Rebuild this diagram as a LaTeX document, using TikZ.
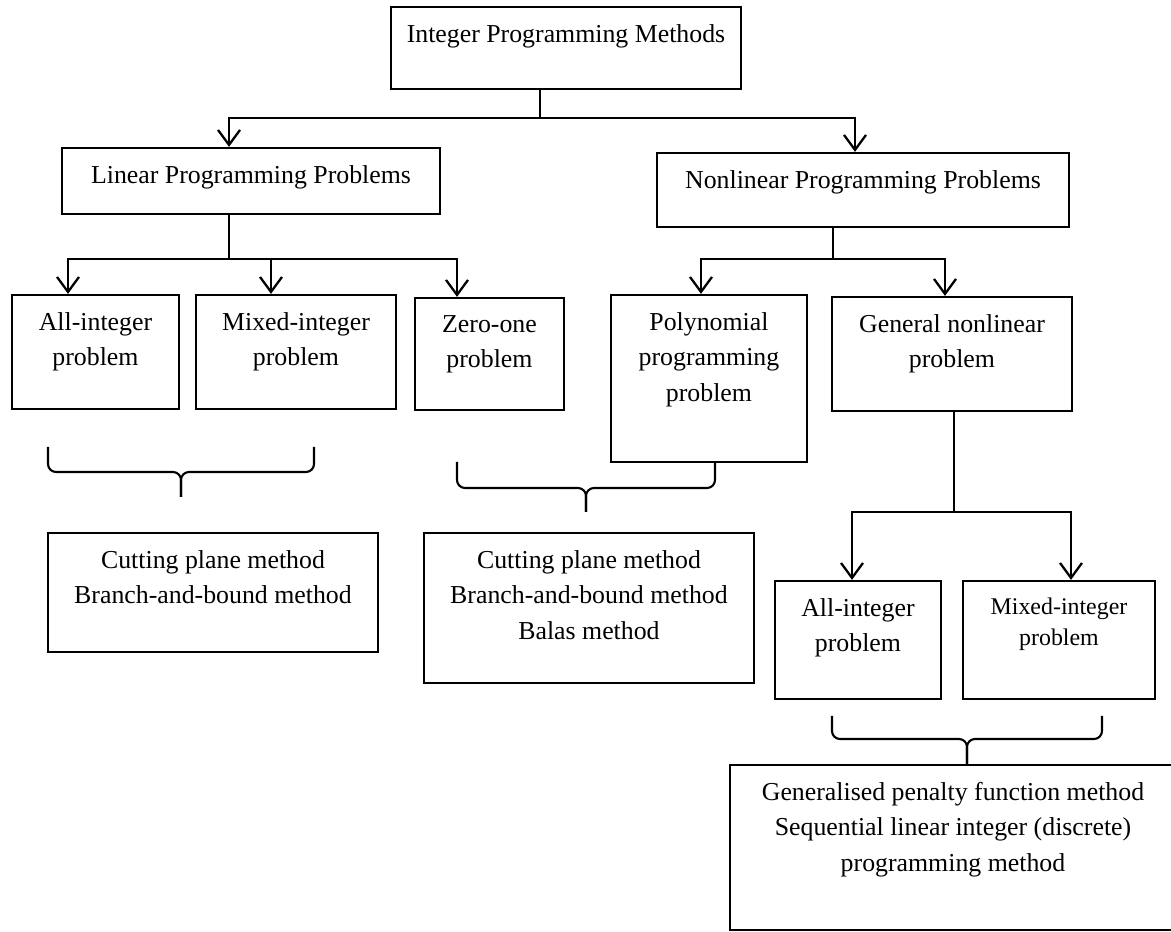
\documentclass[tikz,border=0pt]{standalone}
\usepackage{fontspec}
\setmainfont{Liberation Serif}
\usetikzlibrary{arrows.meta,calc}
\tikzset{
  box/.style={draw,line width=1.3pt,inner sep=0pt},
  txt/.style={anchor=north,align=center,inner sep=0pt,yshift=-0.36cm,font=\fontsize{14.7}{20.2}\selectfont},
  conn/.style={line width=1.3pt},
  brc/.style={line width=1.2pt,rounded corners=0.16cm},
}

\begin{document}
\begin{tikzpicture}[x=0.02cm,y=-0.02cm,>={Straight Barb[length=3mm,width=4.4mm]}]
      \useasboundingbox (0,0) rectangle (1171,932);
      % top level
      \node[box,minimum width=7cm,minimum height=1.64cm,label={[txt]north:Integer Programming Methods}] (ipm) at (566,48) {};
      \node[box,minimum width=7.56cm,minimum height=1.32cm,label={[txt]north:Linear Programming Problems}] (lpp) at (251,181) {};
      \node[box,minimum width=8.24cm,minimum height=1.48cm,label={[txt]north:Nonlinear Programming Problems}] (nlpp) at (863,190) {};
      % problem classes
      \node[box,minimum width=3.34cm,minimum height=2.28cm,label={[txt]north:{All-integer\\problem}}] (allint) at (95.5,352) {};
      \node[box,minimum width=4cm,minimum height=2.28cm,label={[txt]north:{Mixed-integer\\problem}}] (mixint) at (296,352) {};
      \node[box,minimum width=2.98cm,minimum height=2.24cm,label={[txt]north:{Zero-one\\problem}}] (zeroone) at (489.5,354) {};
      \node[box,minimum width=3.92cm,minimum height=3.34cm,label={[txt]north:{Polynomial\\programming\\problem}}] (poly) at (709,378.5) {};
      \node[box,minimum width=4.8cm,minimum height=2.28cm,label={[txt]north:{General nonlinear\\problem}}] (general) at (952,354) {};
      \node[box,minimum width=3.32cm,minimum height=2.36cm,label={[txt]north:{All-integer\\problem}}] (allint2) at (858,640) {};
      \node[box,minimum width=3.84cm,minimum height=2.36cm,label={[txt,font=\fontsize{13.6}{17.6}\selectfont]north:{Mixed-integer\\problem}}] (mixint2) at (1059,640) {};
      % methods
      \node[box,minimum width=6.6cm,minimum height=2.38cm,label={[txt]north:{Cutting plane method\\Branch-and-bound method}}] (meth1) at (213,592.5) {};
      \node[box,minimum width=6.6cm,minimum height=3cm,label={[txt]north:{Cutting plane method\\Branch-and-bound method\\Balas method}}] (meth2) at (589,608) {};
      \node[box,minimum width=8.92cm,minimum height=3.3cm,label={[txt]north:{Generalised penalty function method\\Sequential linear integer (discrete)\\programming method}}] (meth3) at (953,847.5) {};
      % connectors
      \foreach \n/\s in {lpp/-0.44cm,nlpp/-0.16cm}
        \draw[conn,->] ([xshift=-0.52cm]ipm.south) -- ++(0,28) -| ([xshift=\s]\n.north);
      \foreach \n/\s in {allint/-0.55cm,mixint/-0.5cm,zeroone/-0.65cm}
        \draw[conn,->] ([xshift=-0.44cm]lpp.south) -- ++(0,44) -| ([xshift=\s]\n.north);
      \foreach \n/\s in {poly/-0.16cm,general/-0.14cm}
        \draw[conn,->] ([xshift=-0.6cm]nlpp.south) -- ++(0,31) -| ([xshift=\s]\n.north);
      \foreach \n/\s in {allint2/-0.12cm,mixint2/0.24cm}
        \draw[conn,->] ([xshift=0.04cm]general.south) -- ++(0,100) -| ([xshift=\s]\n.north);
      % braces
      \foreach \xa/\xb/\ya/\yb/\yc in {48/314/447/472/497,457/715/462/488/512,832/1102/716/739/765}{
        \pgfmathsetmacro\xm{(\xa+\xb)/2}
        \draw[brc] (\xa,\ya) -- (\xa,\yb) -| (\xm,\yc);
        \draw[brc] (\xb,\ya) -- (\xb,\yb) -| (\xm,\yc);
      }
\end{tikzpicture}
\end{document}
